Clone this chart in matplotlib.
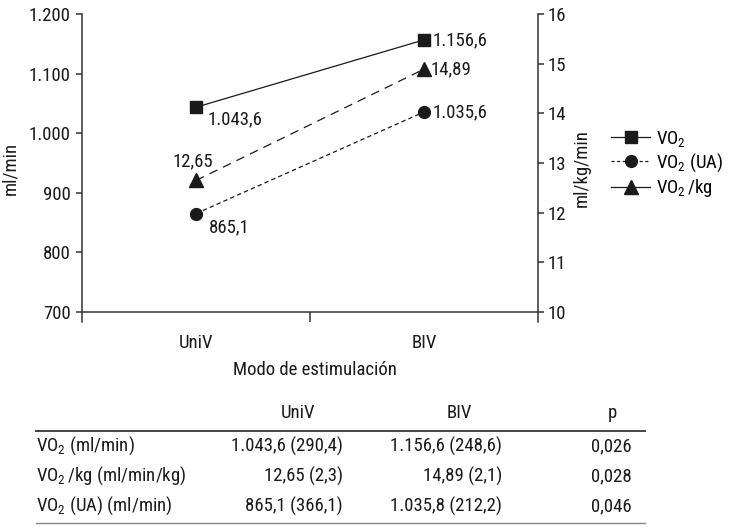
import matplotlib
matplotlib.use('Agg')
import matplotlib.pyplot as plt
from matplotlib import font_manager
from matplotlib.lines import Line2D

# fuente estrecha si existe
nombres = {f.name for f in font_manager.fontManager.ttflist}
fuente = next((n for n in ['Roboto Condensed', 'Archivo Narrow', 'Liberation Sans Narrow', 'Liberation Sans']
               if n in nombres), 'DejaVu Sans')
plt.rcParams['font.family'] = [fuente, 'DejaVu Sans']
plt.rcParams['mathtext.fontset'] = 'custom'
plt.rcParams['mathtext.rm'] = fuente
plt.rcParams['mathtext.it'] = fuente
plt.rcParams['mathtext.default'] = 'regular'

# datos
modos = ['UniV', 'BIV']
vo2 = [1043.6, 1156.6]
vo2_ua = [865.1, 1035.6]
vo2_kg = [12.65, 14.89]

tabla_cols = ['UniV', 'BIV', 'p']
tabla_filas = [r'VO$_2$ (ml/min)', r'VO$_2\,$/kg (ml/min/kg)', r'VO$_2$ (UA) (ml/min)']
tabla_univ = ['1.043,6 (290,4)', '12,65 (2,3)', '865,1 (366,1)']
tabla_biv = ['1.156,6 (248,6)', '14,89 (2,1)', '1.035,8 (212,2)']
tabla_p = ['0,026', '0,028', '0,046']


def es(v, d):
    s = f"{v:,.{d}f}"
    return s.replace(',', 'X').replace('.', ',').replace('X', '.')


W, H = 730, 529
fs = 13.5
col = '#1a1a1a'


def fx(x):
    return x / W


def fy(y):
    return 1 - y / H


fig = plt.figure(figsize=(W / 100, H / 100), dpi=100)
ax = fig.add_axes([fx(82), fy(322), fx(538) - fx(82), fy(14) - fy(322)])
ax2 = ax.twinx()

xs = [0.5, 1.5]
ax.set_xlim(0, 2)
ax.set_ylim(683.2, 1200)
ax2.set_ylim(9.8, 16)

ax.plot(xs, vo2, '-', color=col, lw=0.9, marker='s', ms=8.5, zorder=3)
ax.plot(xs, vo2_ua, color=col, lw=0.9, ls=(0, (3.5, 2.5)), marker='o', ms=8.5, zorder=3)
ax2.plot(xs, vo2_kg, color=col, lw=0.9, ls=(0, (7, 5)), marker='^', ms=10, zorder=3)

# etiquetas de valores
ax.annotate(es(vo2[0], 1), (xs[0], vo2[0]), xytext=(8, -9), textcoords='offset points',
            ha='left', va='center', fontsize=fs, color=col)
ax.annotate(es(vo2_ua[0], 1), (xs[0], vo2_ua[0]), xytext=(9, -10), textcoords='offset points',
            ha='left', va='center', fontsize=fs, color=col)
ax2.annotate(es(vo2_kg[0], 2), (xs[0], vo2_kg[0]), xytext=(-2, 14), textcoords='offset points',
             ha='center', va='center', fontsize=fs, color=col)
ax.annotate(es(vo2[1], 1), (xs[1], vo2[1]), xytext=(6, 0), textcoords='offset points',
            ha='left', va='center', fontsize=fs, color=col)
ax.annotate(es(vo2_ua[1], 1), (xs[1], vo2_ua[1]), xytext=(6, 0), textcoords='offset points',
            ha='left', va='center', fontsize=fs, color=col)
ax2.annotate(es(vo2_kg[1], 2), (xs[1], vo2_kg[1]), xytext=(5, 0), textcoords='offset points',
             ha='left', va='center', fontsize=fs, color=col)

# ejes
for a in (ax, ax2):
    for s in a.spines.values():
        s.set_color('#333333')
        s.set_linewidth(1.1)
ax.spines['top'].set_visible(False)
ax.spines['right'].set_visible(False)
ax.spines['bottom'].set_position(('data', 700))
ax2.spines['top'].set_visible(False)
ax2.spines['left'].set_visible(False)
ax2.spines['bottom'].set_visible(False)

ax.set_yticks(range(700, 1201, 100))
ax.set_yticklabels([es(v, 0) for v in range(700, 1201, 100)])
ax2.set_yticks(range(10, 17))
ax.tick_params(axis='y', direction='out', length=4, width=1.1, color='#333333',
               labelsize=fs, labelcolor=col, pad=4)
ax2.tick_params(axis='y', direction='out', length=4, width=1.1, color='#333333',
                labelsize=fs, labelcolor=col, pad=3)

ax.set_xticks(xs)
ax.set_xticklabels(modos)
ax.set_xticks([1], minor=True)
ax.tick_params(axis='x', which='major', length=0, labelsize=fs, labelcolor=col, pad=16)
ax.tick_params(axis='x', which='minor', direction='out', length=7, width=1.1, color='#333333')

ax.set_ylabel('ml/min', fontsize=fs, color=col, labelpad=7)
ax2.set_ylabel('ml/kg/min', fontsize=fs, color=col, labelpad=5)
fig.text(fx(315), fy(370), 'Modo de estimulación', fontsize=fs, color=col, ha='center', va='center')

# leyenda
handles = [
    Line2D([], [], color=col, lw=0.9, marker='s', ms=8.5),
    Line2D([], [], color=col, lw=0.9, ls=(0, (2.5, 2)), marker='o', ms=8.5),
    Line2D([], [], color=col, lw=0.9, marker='^', ms=10),
]
fig.legend(handles, [r'VO$_2$', r'VO$_2$ (UA)', r'VO$_2\,$/kg'], loc='center left',
           bbox_to_anchor=(fx(611), fy(164)), frameon=False, fontsize=fs,
           handlelength=2.1, handletextpad=0.3, labelspacing=0.15, borderpad=0, borderaxespad=0)

# tabla
fig.text(fx(298), fy(413), tabla_cols[0], fontsize=fs, color=col, ha='center', va='center')
fig.text(fx(459), fy(413), tabla_cols[1], fontsize=fs, color=col, ha='center', va='center')
fig.text(fx(612), fy(413), tabla_cols[2], fontsize=fs, color=col, ha='center', va='center')
fig.add_artist(Line2D([fx(36), fx(645)], [fy(431), fy(431)], color='#444444', lw=1.4))
for i, fila in enumerate(tabla_filas):
    y = fy(446 + 30 * i)
    fig.text(fx(36), y, fila, fontsize=fs, color=col, ha='left', va='center')
    fig.text(fx(343), y, tabla_univ[i], fontsize=fs, color=col, ha='right', va='center')
    fig.text(fx(502), y, tabla_biv[i], fontsize=fs, color=col, ha='right', va='center')
    fig.text(fx(632), y, tabla_p[i], fontsize=fs, color=col, ha='right', va='center')
fig.add_artist(Line2D([fx(36), fx(645)], [fy(523), fy(523)], color='#888888', lw=1.0))

fig.savefig('out.png', dpi=100)
